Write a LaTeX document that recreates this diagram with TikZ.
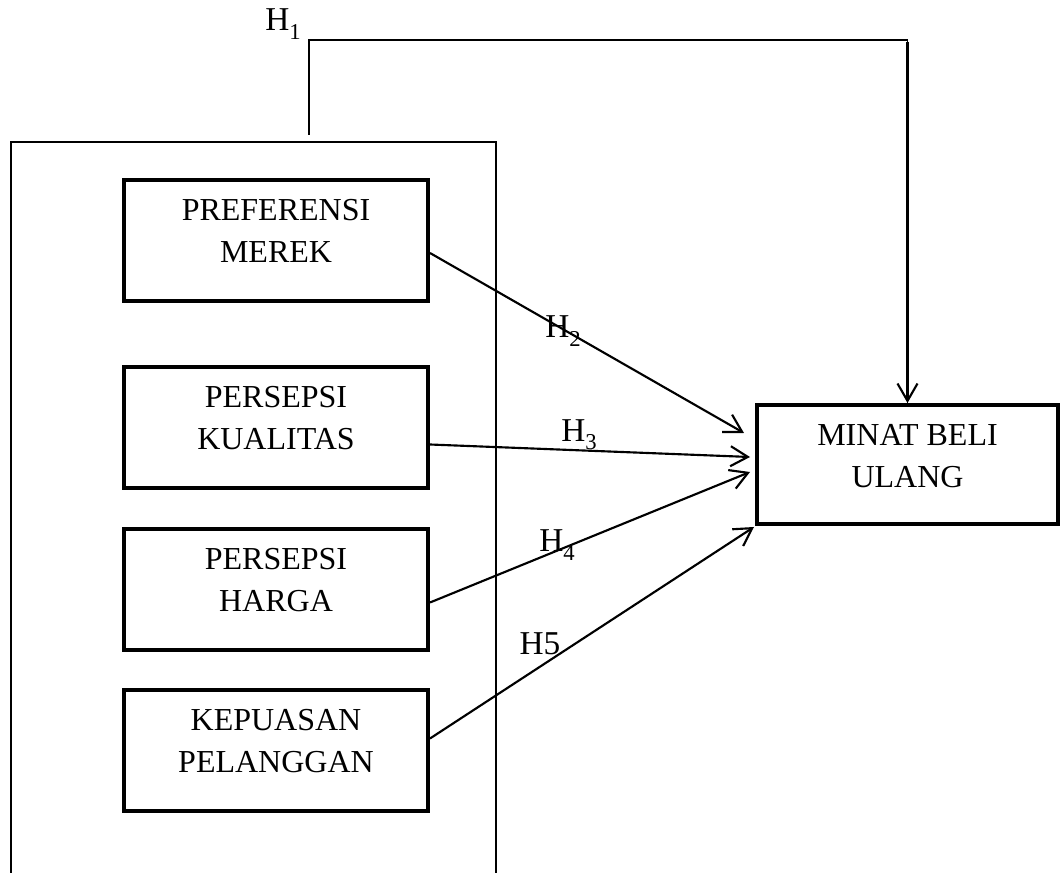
\documentclass[tikz,border=0pt]{standalone}
\usepackage{fontspec}
\setmainfont{Liberation Serif}
\usetikzlibrary{arrows.meta,calc}
\newcommand{\hsub}[1]{\raisebox{-0.25em}{\fontsize{17}{17}\selectfont #1}}
\begin{document}
\begin{tikzpicture}[x=0.75pt,y=-0.75pt,
  varbox/.style={draw,line width=3pt,minimum width=228pt,minimum height=91pt,inner sep=0pt},
  boxtext/.style={align=center,inner sep=0pt,font=\fontsize{24}{32}\selectfont},
  hlabel/.style={inner sep=0pt,font=\fontsize{25}{28}\selectfont},
  link/.style={line width=1.6pt,-{Straight Barb[length=13pt,width=15pt,line width=1.6pt]}},
  groupbox/.style={draw,line width=1.5pt,minimum width=363.75pt,minimum height=600pt,inner sep=0pt,anchor=north west}
]
\useasboundingbox (0,0) rectangle (1061,873);
% outer group frame (bottom edge falls outside the page)
\node[groupbox] (grp) at (10,141) {};
% variable boxes
\node[varbox] (b1) at (276,240.5) {};
\node[varbox] (b2) at (276,427.5) {};
\node[varbox] (b3) at (276,589.5) {};
\node[varbox] (b4) at (276,750.5) {};
\node[draw,line width=3pt,minimum width=225.75pt,minimum height=89.25pt,inner sep=0pt] (mb) at (907.5,464.5) {};
\node[boxtext] (t1) at ($(b1.center)+(0,-9.5)$) {PREFERENSI\\MEREK};
\node[boxtext] (t2) at ($(b2.center)+(0,-9.5)$) {PERSEPSI\\KUALITAS};
\node[boxtext] (t3) at ($(b3.center)+(0,-9.5)$) {PERSEPSI\\HARGA};
\node[boxtext] (t4) at ($(b4.center)+(0,-9.5)$) {KEPUASAN\\PELANGGAN};
\node[boxtext] (tm) at ($(mb.center)+(0,-8.5)$) {MINAT BELI\\ULANG};
% target points on the dependent box
\coordinate (e1) at ($(mb.west)+(-11,-31.5)$);
\coordinate (e2) at ($(mb.west)+(-5,-7.5)$);
\coordinate (e3) at ($(mb.west)+(-5,7.5)$);
\coordinate (e4) at ($(mb.south west)+(-1,1)$);
\draw[link] ($(b1.east)+(0,12.5)$) -- (e1);
\draw[link] ($(b2.east)+(0,17)$) -- (e2);
\draw[link] ($(b3.east)+(0,13)$) -- (e3);
\draw[link] ($(b4.east)+(0,-12)$) -- (e4);
% H1 path
\coordinate (h1s) at (309,135);
\coordinate (h1c) at (309,40);
\draw[line width=1.3pt] (h1s) -- (h1c) -| (mb.north);
\draw[line width=1.8pt,-{Straight Barb[length=13pt,width=15pt,line width=1.6pt]}] (mb.north |- 0,42) -- (mb.north);
% labels
\node[hlabel] (h1) at (283,24) {H\hsub{1}};
\node[hlabel] (h2) at (563,331) {H\hsub{2}};
\node[hlabel] (h3) at (579,435) {H\hsub{3}};
\node[hlabel] (h4) at (557,545) {H\hsub{4}};
\node[hlabel] (h5) at (540,644) {H5};
\end{tikzpicture}
\end{document}
